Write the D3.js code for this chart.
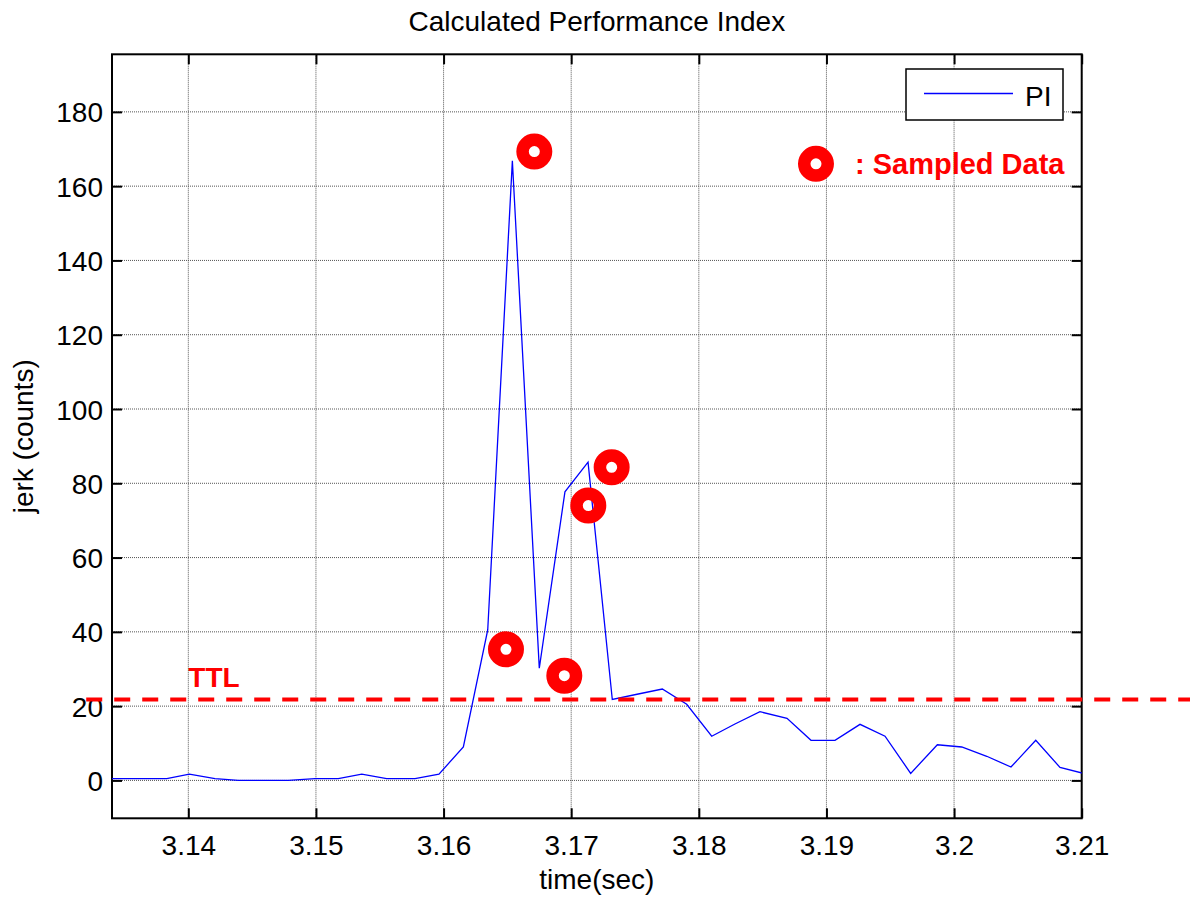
<!DOCTYPE html>
<html>
<head>
<meta charset="utf-8">
<script src="https://cdn.jsdelivr.net/npm/d3@7"></script>
<style>
  html, body { margin: 0; padding: 0; background: #fff; }
  svg { display: block; }
  text { font-family: "Liberation Sans", Arial, sans-serif; }
</style>
</head>
<body>
<svg id="chart" width="1190" height="898"></svg>
<script>
// ---- data ----
const times = [3.13248, 3.13442, 3.13636, 3.13831, 3.14008, 3.14209, 3.14392, 3.14585, 3.14784, 3.14993,
               3.15175, 3.15359, 3.15554, 3.15776, 3.15964, 3.16155, 3.16346, 3.16539, 3.16750, 3.16951,
               3.17132, 3.17322, 3.17516, 3.17714, 3.17905, 3.18101, 3.18283, 3.18479, 3.18691, 3.18879,
               3.19067, 3.19263, 3.19459, 3.19660, 3.19869, 3.20060, 3.20256, 3.20446, 3.20640, 3.20830,
               3.21025];
const piValues = [0.5, 0.5, 0.5, 0.5, 1.7, 0.5, 0, 0, 0, 0.5,
                  0.5, 1.7, 0.5, 0.5, 1.7, 9, 40.5, 166.8, 30.2, 77.7,
                  85.7, 21.8, 23.2, 24.6, 20.5, 11.9, 15.2, 18.5, 16.7, 10.8,
                  10.8, 15.1, 11.9, 1.9, 9.6, 9.0, 6.5, 3.6, 10.8, 3.5,
                  1.8];
const sampleTimes = [3.16489, 3.16711, 3.16946, 3.17134, 3.17317];
const sampleValues = [35.3, 169.3, 28.2, 74.0, 84.3];
const xTicks = [3.14, 3.15, 3.16, 3.17, 3.18, 3.19, 3.20, 3.21];
const xTickLabels = ["3.14", "3.15", "3.16", "3.17", "3.18", "3.19", "3.2", "3.21"];
const yTicks = [0, 20, 40, 60, 80, 100, 120, 140, 160, 180];
const ttlValue = 21.8;
const ttlRange = [3.1320, 3.2185];
const ttlLabelPos = [3.14, 25.1];
const sampleLegendPos = [3.18918, 166.0];
const xDomain = [3.13402, 3.21];
const yDomain = [-10.2, 195.5];

// ---- layout ----
const L = 112, R = 1081.7, T = 54.3, B = 818.3;
const FS = 28;
const svg = d3.select("#chart");
const x = d3.scaleLinear().domain(xDomain).range([L, R]);
const y = d3.scaleLinear().domain(yDomain).range([B, T]);

svg.append("defs").append("clipPath").attr("id", "clip")
  .append("rect").attr("x", L).attr("y", T).attr("width", R - L).attr("height", B - T);

// grid
const grid = svg.append("g");
grid.selectAll(".vg").data(xTicks).join("line")
  .attr("x1", d => x(d)).attr("x2", d => x(d)).attr("y1", T).attr("y2", B)
  .attr("stroke", "#555").attr("stroke-width", 1).attr("stroke-dasharray", "1,1");
grid.selectAll(".hg").data(yTicks).join("line")
  .attr("y1", d => y(d)).attr("y2", d => y(d)).attr("x1", L).attr("x2", R)
  .attr("stroke", "#555").attr("stroke-width", 1).attr("stroke-dasharray", "1,1");

// axes via d3 axis generators (inward ticks)
const tickLen = 10;
svg.append("g").attr("transform", `translate(0,${B})`)
  .call(d3.axisBottom(x).tickValues(xTicks).tickFormat((d, i) => xTickLabels[i]).tickSizeInner(-tickLen).tickSizeOuter(0).tickPadding(37))
  .call(g => g.select(".domain").remove())
  .call(g => g.selectAll("line").attr("stroke", "#000").attr("stroke-width", 2))
  .call(g => g.selectAll("text").attr("font-size", FS).attr("fill", "#000").attr("dy", 0));
svg.append("g").attr("transform", `translate(0,${T})`)
  .call(d3.axisTop(x).tickValues(xTicks).tickFormat("").tickSizeInner(-tickLen).tickSizeOuter(0))
  .call(g => g.select(".domain").remove())
  .call(g => g.selectAll("line").attr("stroke", "#000").attr("stroke-width", 2));
svg.append("g").attr("transform", `translate(${L},0)`)
  .call(d3.axisLeft(y).tickValues(yTicks).tickSizeInner(-tickLen).tickSizeOuter(0).tickPadding(9))
  .call(g => g.select(".domain").remove())
  .call(g => g.selectAll("line").attr("stroke", "#000").attr("stroke-width", 2))
  .call(g => g.selectAll("text").attr("font-size", FS).attr("fill", "#000").attr("dy", "0.36em"));
svg.append("g").attr("transform", `translate(${R},0)`)
  .call(d3.axisRight(y).tickValues(yTicks).tickFormat("").tickSizeInner(-tickLen).tickSizeOuter(0))
  .call(g => g.select(".domain").remove())
  .call(g => g.selectAll("line").attr("stroke", "#000").attr("stroke-width", 2));

// frame
svg.append("rect").attr("x", L).attr("y", T).attr("width", R - L).attr("height", B - T)
  .attr("fill", "none").attr("stroke", "#000").attr("stroke-width", 2);

// PI line
const line = d3.line().x((d, i) => x(times[i])).y(d => y(d));
svg.append("path").datum(piValues)
  .attr("clip-path", "url(#clip)")
  .attr("d", line).attr("fill", "none").attr("stroke", "#0000ff").attr("stroke-width", 1.3);

// TTL dashed line
svg.append("line")
  .attr("x1", x(ttlRange[0])).attr("x2", x(ttlRange[1]))
  .attr("y1", y(ttlValue)).attr("y2", y(ttlValue))
  .attr("stroke", "#ff0000").attr("stroke-width", 4).attr("stroke-dasharray", "16,12");
svg.append("text").attr("x", x(ttlLabelPos[0])).attr("y", y(ttlLabelPos[1]))
  .attr("font-size", FS).attr("font-weight", "bold").attr("fill", "#ff0000").text("TTL");

// sampled data rings
const ringR = 11.75, ringW = 12.5;
svg.selectAll(".ring").data(sampleValues).join("circle")
  .attr("cx", (d, i) => x(sampleTimes[i])).attr("cy", d => y(d))
  .attr("r", ringR).attr("fill", "none").attr("stroke", "#ff0000").attr("stroke-width", ringW);

// sampled data annotation
svg.append("circle").attr("cx", x(sampleLegendPos[0])).attr("cy", y(sampleLegendPos[1]))
  .attr("r", ringR).attr("fill", "none").attr("stroke", "#ff0000").attr("stroke-width", ringW);
svg.append("text").attr("x", x(sampleLegendPos[0]) + 39).attr("y", y(sampleLegendPos[1]) + 10)
  .attr("font-size", 29).attr("font-weight", "bold").attr("fill", "#ff0000").text(": Sampled Data");

// legend
const lg = svg.append("g");
lg.append("rect").attr("x", 906).attr("y", 69).attr("width", 157).attr("height", 51)
  .attr("fill", "#fff").attr("stroke", "#000").attr("stroke-width", 1.5);
lg.append("line").attr("x1", 924).attr("x2", 1013).attr("y1", 93.5).attr("y2", 93.5)
  .attr("stroke", "#0000ff").attr("stroke-width", 1.3);
lg.append("text").attr("x", 1025).attr("y", 106).attr("font-size", FS).attr("fill", "#000").text("PI");

// titles
svg.append("text").attr("x", (L + R) / 2).attr("y", 31).attr("text-anchor", "middle")
  .attr("font-size", FS).attr("fill", "#000").text("Calculated Performance Index");
svg.append("text").attr("x", (L + R) / 2).attr("y", 889).attr("text-anchor", "middle")
  .attr("font-size", FS).attr("fill", "#000").text("time(sec)");
svg.append("text").attr("transform", `translate(33,${(T + B) / 2}) rotate(-90)`).attr("text-anchor", "middle")
  .attr("font-size", FS).attr("fill", "#000").text("jerk (counts)");
</script>
</body>
</html>
